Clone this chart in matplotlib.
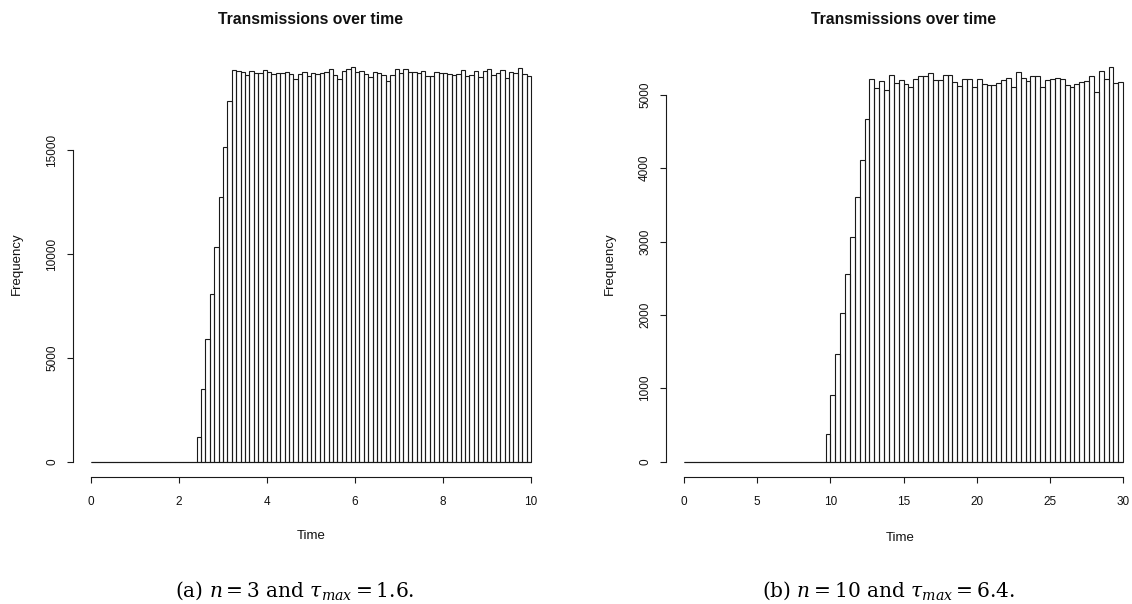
import numpy as np
import matplotlib
matplotlib.use("Agg")
import matplotlib.pyplot as plt

# ---------------- data ----------------
# Left histogram: bins of width 0.1 from 0 to 10
left_bin_start = 0.0
left_bin_width = 0.1
left_counts = [0] * 24 + [
    1170, 3480, 5910, 8050, 10360, 12740, 15150, 17360,
    18870, 18838, 18757, 18645, 18805, 18741, 18741, 18854, 18773, 18677,
    18741, 18741, 18757, 18693, 18435, 18677, 18789, 18564, 18741, 18661,
    18741, 18773, 18918, 18612, 18435, 18821, 18918, 19000, 18789, 18805,
    18677, 18516, 18757, 18741, 18629, 18339, 18629, 18902, 18709, 18902,
    18773, 18773, 18725, 18805, 18580, 18580, 18773, 18709, 18709, 18677,
    18629, 18693, 18870, 18596, 18629, 18805, 18532, 18805, 18902, 18645,
    18709, 18870, 18500, 18773, 18741, 18966, 18677, 18564,
]
left_xticks = [0, 2, 4, 6, 8, 10]
left_yticks = [0, 5000, 10000, 15000]

# Right histogram: bins of width 1/3 from 0 to 30
right_bin_start = 0.0
right_bin_width = 1.0 / 3.0
right_counts = [0] * 29 + [
    371, 903, 1462, 2030, 2553, 3063, 3613, 4113, 4668, 5223,
    5091, 5195, 5064, 5268, 5159, 5209, 5150, 5114, 5223, 5264,
    5264, 5305, 5205, 5205, 5268, 5268, 5182, 5123, 5223, 5223,
    5114, 5214, 5146, 5132, 5141, 5168, 5205, 5232, 5105, 5318,
    5232, 5187, 5264, 5264, 5105, 5205, 5214, 5232, 5223, 5132,
    5114, 5146, 5177, 5187, 5264, 5045, 5327, 5214, 5377, 5159,
    5173,
]
right_xticks = [0, 5, 10, 15, 20, 25, 30]
right_yticks = [0, 1000, 2000, 3000, 4000, 5000]

title_text = "Transmissions over time"
xlabel_text = "Time"
ylabel_text = "Frequency"
caption_left = r"(a) $n = 3$ and $\tau_{max} = 1.6$."
caption_right = r"(b) $n = 10$ and $\tau_{max} = 6.4$."

# ---------------- figure ----------------
W, H = 1132, 604
plt.rcParams["font.family"] = ["Liberation Sans", "DejaVu Sans"]
plt.rcParams["mathtext.fontset"] = "dejavuserif"

fig = plt.figure(figsize=(W / 100, H / 100), dpi=100)
fig.patch.set_facecolor("white")

def px_rect(x0, x1, y0, y1):
    return [x0 / W, 1 - y1 / H, (x1 - x0) / W, (y1 - y0) / H]

line_col = "#1a1a1a"
text_col = "#111111"

def draw_hist(rect, start, width, counts, xticks, yticks):
    ax = fig.add_axes(rect)
    counts = np.asarray(counts, dtype=float)
    n = len(counts)
    edges = start + width * np.arange(n + 1)
    ax.bar(edges[:-1], counts, width=width, align="edge", fill=False,
           edgecolor=line_col, linewidth=0.8)
    # baseline of the histogram (visible where counts are zero)
    ax.plot([edges[0], edges[-1]], [0, 0], color=line_col, lw=0.8,
            solid_capstyle="butt")
    xmin, xmax = edges[0], edges[-1]
    xr = xmax - xmin
    ax.set_xlim(xmin - 0.04 * xr, xmax + 0.04 * xr)
    M = counts.max()
    ax.set_ylim(-0.04 * M, 1.04 * M)
    for s in ["top", "right"]:
        ax.spines[s].set_visible(False)
    ax.spines["left"].set_bounds(yticks[0], yticks[-1])
    ax.spines["bottom"].set_bounds(xticks[0], xticks[-1])
    for s in ["left", "bottom"]:
        ax.spines[s].set_color(line_col)
        ax.spines[s].set_linewidth(0.8)
    ax.set_xticks(xticks)
    ax.set_xticklabels([str(t) for t in xticks])
    ax.set_yticks(yticks)
    ax.set_yticklabels([str(t) for t in yticks], rotation=90, va="center")
    ax.tick_params(axis="both", direction="out", length=4.5, width=0.8,
                   color=line_col, labelsize=8.5, labelcolor=text_col)
    ax.tick_params(axis="x", pad=9)
    ax.tick_params(axis="y", pad=6.5)
    ax.patch.set_alpha(0)
    return ax

axL = draw_hist(px_rect(73.4, 548.6, 51.5, 477.3), left_bin_start, left_bin_width,
                left_counts, left_xticks, left_yticks)
axR = draw_hist(px_rect(666.4, 1140.8, 51.5, 477.3), right_bin_start, right_bin_width,
                right_counts, right_xticks, right_yticks)

def ftext(x, y, s, **kw):
    fig.text(x / W, 1 - y / H, s, ha="center", va="center", color=text_col, **kw)

ftext(311, 19, title_text, fontsize=11.3, fontweight="bold")
ftext(903.6, 19, title_text, fontsize=11.3, fontweight="bold")
ftext(311, 536, xlabel_text, fontsize=9.5)
ftext(900, 538, xlabel_text, fontsize=9.5)
ftext(17, 264, ylabel_text, fontsize=9.5, rotation=90)
ftext(610, 264, ylabel_text, fontsize=9.5, rotation=90)

fig.text(294.5 / W, 1 - 591 / H, caption_left, ha="center", va="center",
         fontsize=14.5, family="DejaVu Serif", color="#000000")
fig.text(889 / W, 1 - 591 / H, caption_right, ha="center", va="center",
         fontsize=14.5, family="DejaVu Serif", color="#000000")

fig.savefig("out.png", dpi=100, facecolor="white")
